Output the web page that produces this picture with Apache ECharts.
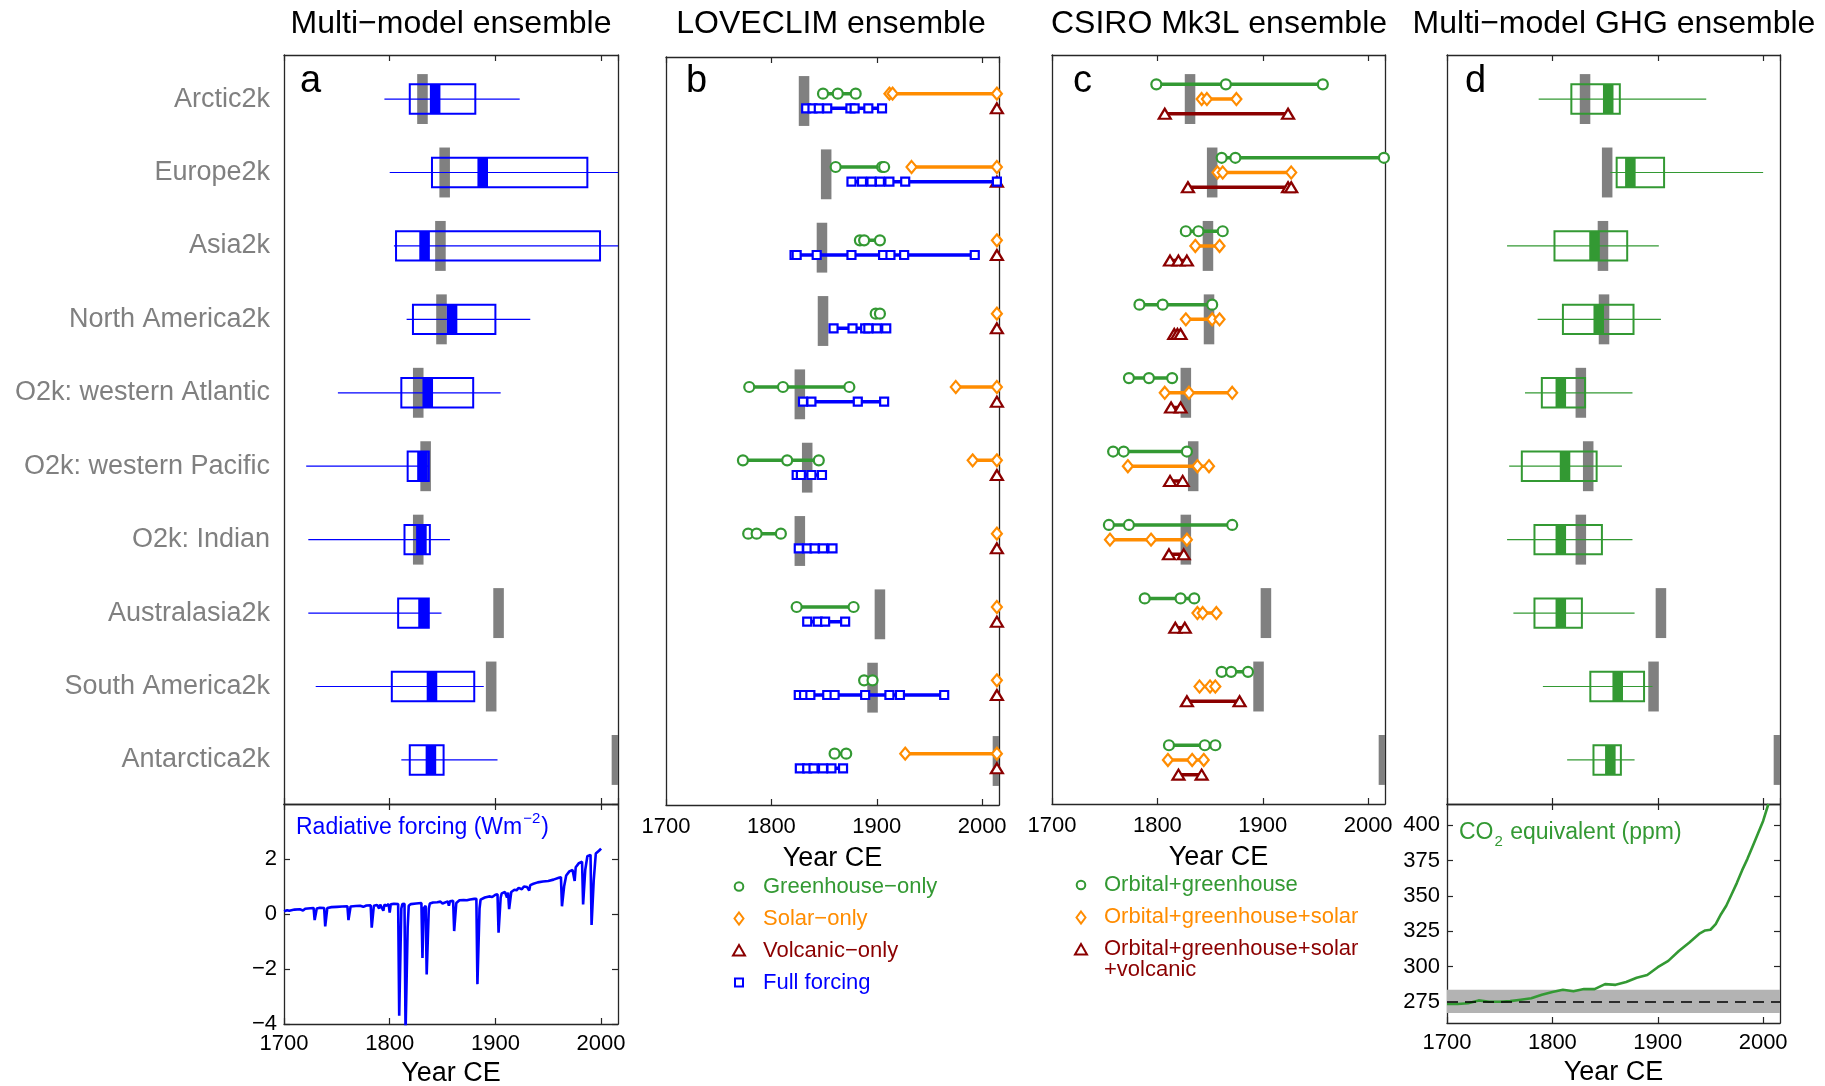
<!DOCTYPE html>
<html>
<head>
<meta charset="utf-8">
<script src="https://cdn.jsdelivr.net/npm/echarts@6/dist/echarts.min.js"></script>
<style>
  html, body { margin: 0; padding: 0; background: #ffffff; }
  #chart { width: 1825px; height: 1086px; }
</style>
</head>
<body>
<div id="chart"></div>
<script>
// ---------------- data ----------------
const regions = ['Arctic2k', 'Europe2k', 'Asia2k', 'North America2k', 'O2k: western Atlantic',
  'O2k: western Pacific', 'O2k: Indian', 'Australasia2k', 'South America2k', 'Antarctica2k'];

// onset year of sustained warming in the reconstructions (grey bars)
const observedOnset = [1831, 1852, 1848, 1849, 1827, 1834, 1827, 1903, 1896, 2015];

// multi-model ensemble onset: [lower whisker, q1, median, q3, upper whisker]
const multiModel = [
  [1795, 1819, 1843, 1881, 1923],
  [1800, 1840, 1888, 1987, 2030],
  [1804, 1806, 1833, 1999, 2030],
  [1816, 1822, 1859, 1900, 1933],
  [1751, 1811, 1836, 1879, 1905],
  [1721, 1817, 1831, 1837, 1837],
  [1723, 1814, 1830, 1838, 1857],
  [1723, 1808, 1832, 1837, 1849],
  [1730, 1802, 1840, 1880, 1889],
  [1811, 1819, 1839, 1851, 1902]
];

// multi-model GHG-only ensemble onset
const ghgEnsemble = [
  [1787, 1818, 1853, 1864, 1946],
  [1855, 1861, 1874, 1906, 2000],
  [1757, 1802, 1840, 1871, 1901],
  [1786, 1810, 1844, 1877, 1903],
  [1774, 1790, 1808, 1831, 1876],
  [1759, 1771, 1812, 1842, 1866],
  [1757, 1783, 1808, 1847, 1876],
  [1763, 1783, 1808, 1828, 1878],
  [1791, 1836, 1862, 1887, 1895],
  [1814, 1839, 1855, 1865, 1878]
];

// LOVECLIM single-forcing members
const loveGreenhouse = [
  [1849, 1863, 1880], [1861, 1905, 1907], [1884, 1888, 1903], [1899, 1903], [1779, 1811, 1874],
  [1773, 1815, 1845], [1778, 1786, 1809], [1824, 1878], [1888, 1896], [1860, 1871]
];
const loveSolar = [
  [1912, 1915, 2014], [1933, 2014], [2014], [2014], [1975, 2014],
  [1991, 2014], [2014], [2014], [2014], [1927, 2014]
];
const loveVolcanic = [[2014], [2014], [2014], [2014], [2014], [2014], [2014], [2014], [2014], [2014]];
const loveFull = [
  [1833, 1839, 1845, 1853, 1875, 1879, 1892, 1905],
  [1876, 1886, 1895, 1903, 1912, 1927, 2014],
  [1822, 1824, 1843, 1876, 1906, 1913, 1926, 1993],
  [1859, 1877, 1889, 1892, 1900, 1909],
  [1830, 1838, 1882, 1907],
  [1824, 1828, 1838, 1848],
  [1826, 1834, 1841, 1849, 1858],
  [1834, 1844, 1851, 1870],
  [1826, 1831, 1837, 1853, 1860, 1889, 1912, 1922, 1964],
  [1827, 1834, 1840, 1849, 1857, 1868]
];

// CSIRO Mk3L members
const csiroOG = [
  [1799, 1865, 1957], [1861, 1874, 2015], [1827, 1839, 1862], [1783, 1805, 1852], [1773, 1792, 1814],
  [1758, 1768, 1828], [1754, 1773, 1871], [1788, 1822, 1835], [1861, 1870, 1886], [1811, 1845, 1855]
];
const csiroOGS = [
  [1842, 1847, 1875], [1857, 1862, 1927], [1836, 1859], [1827, 1852, 1859], [1807, 1830, 1871],
  [1772, 1838, 1849], [1755, 1794, 1828], [1838, 1843, 1856], [1840, 1850, 1855], [1810, 1833, 1844]
];
const csiroOGSV = [
  [1807, 1924], [1829, 1924, 1927], [1812, 1820, 1828], [1816, 1819, 1822], [1813, 1822],
  [1812, 1824], [1811, 1825], [1817, 1826], [1828, 1878], [1820, 1842]
];

// radiative forcing (W m-2)
const forcingYear = [1700,1703,1705,1710,1715,1718,1720,1725,1728,1729,1731,1734,1738,1739,1741,1745,1750,1755,1760,1761,1763,1768,1772,1775,1778,1782,1783,1785,1788,1790,1791,1794,1795,1797,1799,1800,1801,1804,1808,1809,1811,1812,1814,1815,1817,1818,1820,1825,1830,1831,1832,1834,1835,1837,1838,1841,1845,1848,1850,1851,1855,1856,1857,1860,1861,1863,1866,1870,1873,1876,1880,1882,1883,1885,1886,1890,1894,1897,1900,1902,1903,1905,1906,1909,1911,1912,1913,1915,1918,1920,1922,1925,1927,1930,1932,1933,1936,1940,1945,1950,1955,1960,1962,1963,1965,1967,1970,1973,1975,1976,1979,1982,1983,1985,1987,1990,1991,1993,1995,1998,2000];
const forcingWm2 = [0.10,0.14,0.12,0.16,0.17,0.13,0.19,0.21,0.22,-0.22,0.20,0.23,0.22,-0.45,0.22,0.25,0.26,0.27,0.28,-0.22,0.27,0.29,0.30,0.26,0.31,0.32,-0.50,0.30,0.33,0.20,0.34,0.12,0.34,0.30,0.36,0.05,0.35,0.37,0.36,-3.70,0.20,0.36,0.37,-4.30,-0.50,0.30,0.36,0.38,0.40,-1.60,0.20,0.30,-2.20,0.20,0.38,0.42,0.43,0.45,0.38,0.45,0.46,0.30,0.46,0.48,-0.62,0.40,0.50,0.51,0.50,0.53,0.55,0.55,-2.55,0.20,0.52,0.60,0.64,0.62,0.70,0.72,-0.68,0.60,0.75,0.80,0.60,0.78,0.18,0.80,0.88,0.86,0.95,0.90,1.00,0.98,0.85,1.05,1.10,1.15,1.18,1.20,1.25,1.32,1.34,0.28,1.00,1.40,1.55,1.60,1.20,1.70,1.85,1.90,0.35,1.60,2.10,2.15,-0.40,1.20,2.20,2.30,2.38];

// CO2-equivalent concentration (ppm)
const co2Year = [1700,1710,1720,1730,1740,1750,1760,1770,1780,1790,1800,1810,1820,1830,1840,1850,1860,1870,1880,1890,1900,1910,1920,1930,1940,1945,1950,1955,1960,1965,1970,1975,1980,1985,1990,1995,2000,2005];
const co2Ppm = [273.5,273.5,274,276,275,275,275.5,276.5,277.5,280,282,283.5,282.5,284,284,287.5,287,289,292,294,299.5,304,311,317,323.5,325.5,326,330,337,343,351,359,368,376,385,394,403,415];
const preindustrialCO2 = 275;
const preindustrialRange = [267, 283.5];

const co2Ticks = [275, 300, 325, 350, 375, 400];

// ---------------- styling ----------------
const FONT = '"Liberation Sans", Arial, Helvetica, sans-serif';
const COL = { blue: '#0000ff', green: '#339933', orange: '#ff8c00', red: '#8b0000', grey: '#808080', axis: '#262626' };
const GREY_HALF_W = 5, GREY_HALF_H = 0.34, BOX_HALF_H = 0.2, MED_HALF_W = 5;

const grids = [
  { left: 284, top: 55, width: 334, height: 749 },   // a
  { left: 284, top: 804, width: 334, height: 220 },  // a forcing
  { left: 666, top: 57, width: 333, height: 748 },   // b
  { left: 1052, top: 55, width: 333, height: 749 },  // c
  { left: 1447, top: 55, width: 333, height: 749 },  // d
  { left: 1447, top: 804, width: 333, height: 219 }  // d CO2
];

const axisLine = { show: true, onZero: false, lineStyle: { color: COL.axis, width: 1.3 } };
const tickStyle = { show: true, inside: true, length: 6, lineStyle: { color: COL.axis, width: 1.2 } };
const plain = v => String(v).replace('-', '\u2212');

const xAxes = [], yAxes = [];
grids.forEach((g, gi) => {
  const lower = gi === 1 || gi === 5;
  const labelled = lower || gi === 2 || gi === 3;
  xAxes.push({
    type: 'value', gridIndex: gi, position: 'bottom', min: 1700, max: 2016, interval: 100,
    axisLine, axisTick: tickStyle, splitLine: { show: false },
    axisLabel: { show: labelled, showMaxLabel: false, formatter: plain, color: '#000', fontSize: 22, fontFamily: FONT, margin: lower ? 9 : 11 },
    name: labelled ? 'Year CE' : '', nameLocation: 'middle', nameGap: lower ? 36 : 40,
    nameTextStyle: { color: '#000', fontSize: 27, fontFamily: FONT }
  });
  xAxes.push({
    type: 'value', gridIndex: gi, position: 'top', min: 1700, max: 2016, interval: 100,
    axisLine, axisTick: tickStyle, splitLine: { show: false }, axisLabel: { show: false }
  });
  if (gi === 1) {
    const lab = { show: true, showMaxLabel: false, color: '#000', fontSize: 22, fontFamily: FONT, margin: 7, formatter: plain };
    yAxes.push({ type: 'value', gridIndex: gi, position: 'left', min: -4, max: 4, interval: 2,
      axisLine, axisTick: tickStyle, splitLine: { show: false }, axisLabel: lab });
    yAxes.push({ type: 'value', gridIndex: gi, position: 'right', min: -4, max: 4, interval: 2,
      axisLine, axisTick: tickStyle, splitLine: { show: false }, axisLabel: { show: false } });
  } else if (gi === 5) {
    yAxes.push({ type: 'value', gridIndex: gi, position: 'left', min: 260, max: 415,
      axisLine, axisTick: Object.assign({}, tickStyle, { customValues: co2Ticks }), splitLine: { show: false },
      axisLabel: { show: true, customValues: co2Ticks, formatter: plain, color: '#000', fontSize: 22, fontFamily: FONT, margin: 7 } });
    yAxes.push({ type: 'value', gridIndex: gi, position: 'right', min: 260, max: 415,
      axisLine, axisTick: Object.assign({}, tickStyle, { customValues: co2Ticks }), splitLine: { show: false },
      axisLabel: { show: false } });
  } else {
    yAxes.push({ type: 'value', gridIndex: gi, position: 'left', min: 0.4, max: 10.6, inverse: true,
      axisLine, axisTick: { show: false }, splitLine: { show: false },
      axisLabel: { show: gi === 0, customValues: regions.map((r, i) => i + 1),
        formatter: v => regions[Math.round(v) - 1] || '', color: '#808080', fontSize: 27, fontFamily: FONT, margin: 14 } });
    yAxes.push({ type: 'value', gridIndex: gi, position: 'right', min: 0.4, max: 10.6, inverse: true,
      axisLine, axisTick: { show: false }, splitLine: { show: false }, axisLabel: { show: false } });
  }
});

// ---------------- renderers ----------------
function greyBar(params, api) {
  const row = api.value(0), yr = api.value(1);
  const p0 = api.coord([yr - GREY_HALF_W, row - GREY_HALF_H]);
  const p1 = api.coord([yr + GREY_HALF_W, row + GREY_HALF_H]);
  const cs = params.coordSys;
  const rect = echarts.graphic.clipRectByRect(
    { x: p0[0], y: Math.min(p0[1], p1[1]), width: p1[0] - p0[0], height: Math.abs(p1[1] - p0[1]) },
    { x: cs.x, y: cs.y, width: cs.width, height: cs.height });
  return rect && { type: 'rect', shape: rect, style: { fill: COL.grey } };
}

function boxPlot(color) {
  return function (params, api) {
    const row = api.value(0);
    const lo = api.value(1), q1 = api.value(2), md = api.value(3), q3 = api.value(4), hi = api.value(5);
    const cs = params.coordSys;
    const px = v => Math.min(Math.max(api.coord([v, row])[0], cs.x), cs.x + cs.width);
    const yc = api.coord([lo, row])[1];
    const yt = api.coord([lo, row - BOX_HALF_H])[1];
    const yb = api.coord([lo, row + BOX_HALF_H])[1];
    return { type: 'group', children: [
      { type: 'line', shape: { x1: px(lo), y1: yc, x2: px(hi), y2: yc }, style: { stroke: color, lineWidth: 1.2 } },
      { type: 'rect', shape: { x: px(md - MED_HALF_W), y: yt, width: px(md + MED_HALF_W) - px(md - MED_HALF_W), height: yb - yt },
        style: { fill: color } },
      { type: 'rect', shape: { x: px(q1), y: yt, width: px(q3) - px(q1), height: yb - yt },
        style: { fill: 'none', stroke: color, lineWidth: 2 } }
    ] };
  };
}

function greySeries(gi) {
  return { type: 'custom', xAxisIndex: 2 * gi, yAxisIndex: 2 * gi, z: 1, silent: true,
    renderItem: greyBar, data: observedOnset.map((y, i) => [i + 1, y]), encode: { x: 1, y: 0 } };
}
function boxSeries(gi, values, color) {
  return { type: 'custom', xAxisIndex: 2 * gi, yAxisIndex: 2 * gi, z: 3, silent: true, clip: true,
    renderItem: boxPlot(color), data: values.map((v, i) => [i + 1].concat(v)), encode: { x: [1, 2, 3, 4, 5], y: 0 } };
}
function memberSeries(gi, list, name, color, symbol, size, offset, z) {
  return list.map((yrs, i) => ({
    type: 'line', name, xAxisIndex: 2 * gi, yAxisIndex: 2 * gi, z, silent: true,
    data: yrs.map(v => [v, i + 1 + offset]),
    symbol, symbolSize: size, showSymbol: true, showAllSymbol: true,
    lineStyle: { color, width: 3.5 },
    itemStyle: { color: '#ffffff', borderColor: color, borderWidth: 2.2 }
  }));
}

const series = [];
// panel a
series.push(greySeries(0), boxSeries(0, multiModel, COL.blue));
series.push({ type: 'line', name: 'Radiative forcing', xAxisIndex: 2, yAxisIndex: 2, silent: true, showSymbol: false,
  data: forcingYear.map((y, i) => [y, forcingWm2[i]]), lineStyle: { color: COL.blue, width: 2.6 } });
// panel b
series.push(greySeries(2));
series.push(...memberSeries(2, loveGreenhouse, 'Greenhouse\u2212only', COL.green, 'circle', 10, -0.1, 3));
series.push(...memberSeries(2, loveSolar, 'Solar\u2212only', COL.orange, 'diamond', [10, 12], -0.1, 4));
series.push(...memberSeries(2, loveVolcanic, 'Volcanic\u2212only', COL.red, 'triangle', [12, 10], 0.1, 5));
series.push(...memberSeries(2, loveFull, 'Full forcing', COL.blue, 'rect', 8, 0.1, 6));
// panel c
series.push(greySeries(3));
series.push(...memberSeries(3, csiroOG, 'Orbital+greenhouse', COL.green, 'circle', 10, -0.2, 3));
series.push(...memberSeries(3, csiroOGS, 'Orbital+greenhouse+solar', COL.orange, 'diamond', [10, 12], 0, 4));
series.push(...memberSeries(3, csiroOGSV, 'Orbital+greenhouse+solar+volcanic', COL.red, 'triangle', [12, 10], 0.2, 5));
// panel d
series.push(greySeries(4), boxSeries(4, ghgEnsemble, COL.green));
series.push({ type: 'line', xAxisIndex: 10, yAxisIndex: 10, z: 1, silent: true, data: [],
  markArea: { silent: true, itemStyle: { color: '#b3b3b3' },
    data: [[{ yAxis: preindustrialRange[0] }, { yAxis: preindustrialRange[1] }]] },
  markLine: { silent: true, symbol: 'none', label: { show: false },
    lineStyle: { color: '#000', type: [11, 7], width: 1.6 }, data: [{ yAxis: preindustrialCO2 }] } });
series.push({ type: 'line', name: 'CO2 equivalent', xAxisIndex: 10, yAxisIndex: 10, z: 3, silent: true, showSymbol: false,
  data: co2Year.map((y, i) => [y, co2Ppm[i]]), lineStyle: { color: COL.green, width: 2.6 } });

// ---------------- text, panel letters, keys ----------------
const ctx = document.createElement('canvas').getContext('2d');
function textW(str, size) { ctx.font = size + 'px ' + FONT; return ctx.measureText(str).width; }
function txt(x, y, text, size, color, align, valign) {
  return { type: 'text', x, y, z: 100, silent: true,
    style: { text, font: size + 'px ' + FONT, fill: color, align: align || 'left', verticalAlign: valign || 'middle',
      textAlign: align || 'left', textVerticalAlign: valign || 'middle' } };
}
function marker(kind, cx, cy, color) {
  const st = { fill: '#ffffff', stroke: color, lineWidth: 2 };
  if (kind === 'circle') return { type: 'circle', z: 100, shape: { cx, cy, r: 4.3 }, style: st };
  if (kind === 'rect') return { type: 'rect', z: 100, shape: { x: cx - 4, y: cy - 4, width: 8, height: 8 }, style: st };
  if (kind === 'diamond') return { type: 'polygon', z: 100, shape: { points: [[cx, cy - 6], [cx + 4.5, cy], [cx, cy + 6], [cx - 4.5, cy]] }, style: st };
  return { type: 'polygon', z: 100, shape: { points: [[cx, cy - 5.5], [cx + 6, cy + 5], [cx - 6, cy + 5]] }, style: st };
}

const graphic = [];
[['Multi\u2212model ensemble', 451], ['LOVECLIM ensemble', 831], ['CSIRO Mk3L ensemble', 1219], ['Multi\u2212model GHG ensemble', 1614]]
  .forEach(([t, x]) => graphic.push(txt(x, 24, t, 32, '#000', 'center', 'middle')));
[['a', 300], ['b', 686], ['c', 1073], ['d', 1465]].forEach(([t, x]) => graphic.push(txt(x, 82, t, 38, '#000', 'left', 'middle')));

// forcing label with superscript
(function () {
  const x0 = 296, y0 = 828, s = 23;
  const a = 'Radiative forcing (Wm';
  const wa = textW(a, s);
  const wb = textW('\u22122', 15);
  graphic.push(txt(x0, y0, a, s, COL.blue));
  graphic.push(txt(x0 + wa + 1, y0 - 9, '\u22122', 15, COL.blue));
  graphic.push(txt(x0 + wa + wb + 2, y0, ')', s, COL.blue));
})();
// CO2 label with subscript
(function () {
  const x0 = 1459, y0 = 833, s = 23;
  const wa = textW('CO', s), wb = textW('2', 15);
  graphic.push(txt(x0, y0, 'CO', s, COL.green));
  graphic.push(txt(x0 + wa + 1, y0 + 9, '2', 15, COL.green));
  graphic.push(txt(x0 + wa + wb + 2, y0, ' equivalent (ppm)', s, COL.green));
})();

// keys below panels b and c
[['circle', 'Greenhouse\u2212only', COL.green, 886.5], ['diamond', 'Solar\u2212only', COL.orange, 918.5],
 ['triangle', 'Volcanic\u2212only', COL.red, 950.5], ['rect', 'Full forcing', COL.blue, 982.5]]
  .forEach(([k, t, c, y]) => { graphic.push(marker(k, 739, y, c)); graphic.push(txt(763, y, t, 22, c)); });
[['circle', 'Orbital+greenhouse', COL.green, 885], ['diamond', 'Orbital+greenhouse+solar', COL.orange, 917.5],
 ['triangle', 'Orbital+greenhouse+solar\n+volcanic', COL.red, 949.5]]
  .forEach(([k, t, c, y]) => {
    graphic.push(marker(k, 1081, y, c));
    const el = txt(1104, y - 11, t, 22, c, 'left', 'top');
    el.style.lineHeight = 21;
    graphic.push(el);
  });

const chart = echarts.init(document.getElementById('chart'), null, { renderer: 'canvas' });
chart.setOption({
  animation: false,
  backgroundColor: '#ffffff',
  grid: grids.map(g => Object.assign({ containLabel: false, outerBoundsMode: 'none' }, g)),
  xAxis: xAxes,
  yAxis: yAxes,
  series,
  graphic
});
</script>
</body>
</html>
